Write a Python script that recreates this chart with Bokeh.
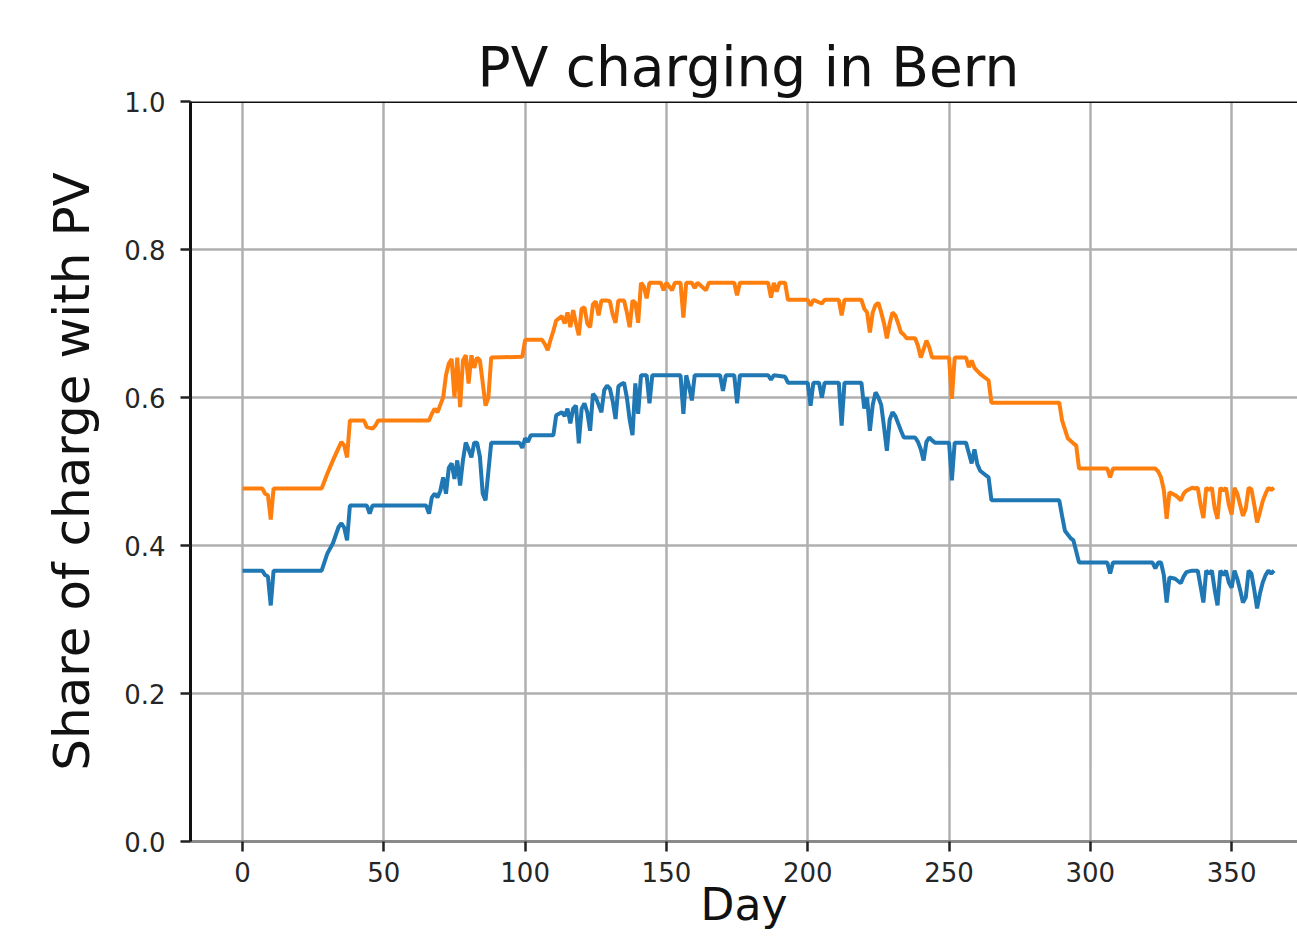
from bokeh.plotting import figure
from bokeh.models import Range1d, Span, FixedTicker
from bokeh.embed import file_html
from bokeh.resources import INLINE

# ---- data ----
days_orange = [0, 7, 8, 9, 10, 11, 28, 30, 32, 34, 35, 36, 37, 38, 43, 44, 46, 47, 48, 66,
               67, 68, 69, 70, 71, 72, 73, 74, 75, 76, 77, 78, 79, 80, 81, 82, 83, 84, 85, 86,
               87, 88, 99, 100, 106, 107, 108, 109, 110, 111, 113, 114, 115, 116, 117, 118, 119, 120, 121, 122,
               123, 124, 125, 126, 127, 129, 130, 131, 132, 133, 135, 136, 137, 138, 139, 140, 141, 142, 143, 144,
               148, 149, 150, 152, 153, 155, 156, 157, 159, 160, 161, 164, 165, 174, 175, 176, 186, 187, 188, 189, 190,
               192, 193, 200, 201, 202, 205, 206, 211, 212, 213, 219, 220, 221, 222, 223, 224, 225, 226, 227, 228,
               229, 230, 231, 232, 233, 234, 235, 238, 239, 240, 241, 242, 243, 244, 250, 251, 252, 256, 257, 258,
               259, 261, 263, 264, 265, 289, 290, 292, 294, 295, 296, 306, 307, 308, 323, 324, 325, 326, 327, 328,
               329, 330, 331, 332, 333, 334, 335, 336, 337, 338, 339, 340, 341, 342, 343, 344, 345, 346, 347, 348,
               349, 350, 351, 352, 353, 354, 355, 356, 357, 358, 359, 360, 361, 362, 363, 364, 365]
share_orange = [0.477, 0.477, 0.470, 0.468, 0.435, 0.477, 0.477, 0.497, 0.515, 0.532, 0.540, 0.535, 0.519, 0.569, 0.569, 0.560, 0.558, 0.562, 0.569, 0.569,
                0.578, 0.585, 0.580, 0.590, 0.600, 0.630, 0.646, 0.652, 0.600, 0.654, 0.587, 0.650, 0.657, 0.619, 0.657, 0.640, 0.654, 0.650, 0.620, 0.589,
                0.600, 0.654, 0.655, 0.678, 0.678, 0.672, 0.664, 0.678, 0.690, 0.704, 0.710, 0.700, 0.715, 0.695, 0.718, 0.700, 0.684, 0.720, 0.722, 0.700,
                0.695, 0.726, 0.730, 0.711, 0.731, 0.731, 0.730, 0.712, 0.701, 0.731, 0.731, 0.715, 0.695, 0.731, 0.728, 0.701, 0.755, 0.750, 0.734, 0.755,
                0.755, 0.745, 0.755, 0.745, 0.755, 0.755, 0.708, 0.755, 0.755, 0.748, 0.755, 0.745, 0.755, 0.755, 0.738, 0.755, 0.755, 0.735, 0.755, 0.743, 0.755,
                0.755, 0.732, 0.732, 0.724, 0.732, 0.727, 0.732, 0.732, 0.711, 0.732, 0.732, 0.720, 0.715, 0.688, 0.715, 0.725, 0.728, 0.715, 0.700, 0.680,
                0.700, 0.715, 0.711, 0.700, 0.688, 0.685, 0.680, 0.680, 0.670, 0.654, 0.665, 0.677, 0.668, 0.654, 0.654, 0.598, 0.654, 0.654, 0.641, 0.650,
                0.640, 0.632, 0.626, 0.623, 0.593, 0.593, 0.569, 0.545, 0.538, 0.535, 0.504, 0.504, 0.492, 0.504, 0.504, 0.500, 0.492, 0.475, 0.436, 0.472,
                0.470, 0.468, 0.465, 0.461, 0.470, 0.474, 0.476, 0.478, 0.477, 0.478, 0.455, 0.437, 0.478, 0.475, 0.478, 0.450, 0.436, 0.478, 0.474, 0.478,
                0.455, 0.442, 0.478, 0.470, 0.455, 0.440, 0.450, 0.478, 0.476, 0.455, 0.431, 0.445, 0.460, 0.470, 0.478, 0.475, 0.478]

days_blue = [0, 7, 8, 9, 10, 11, 28, 30, 32, 34, 35, 36, 37, 38, 44, 45, 46, 65, 66, 67,
             68, 69, 70, 71, 72, 73, 74, 75, 76, 77, 78, 79, 80, 81, 82, 83, 84, 85, 86, 87,
             88, 98, 99, 100, 101, 102, 110, 111, 112, 113, 114, 115, 116, 117, 118, 119, 120, 121, 122, 123,
             124, 125, 126, 127, 128, 129, 130, 131, 132, 133, 134, 135, 136, 137, 138, 139, 140, 141, 143, 144,
             145, 155, 156, 157, 158, 159, 160, 169, 170, 171, 174, 175, 176, 186, 187, 188, 192, 193, 200, 201, 202,
             204, 205, 206, 211, 212, 213, 219, 220, 221, 222, 223, 224, 225, 226, 227, 228, 229, 230, 231, 232,
             233, 234, 238, 239, 240, 241, 242, 243, 244, 245, 250, 251, 252, 256, 257, 258, 259, 260, 261, 263,
             264, 265, 289, 290, 291, 293, 294, 296, 306, 307, 308, 322, 323, 324, 325, 326, 327, 328, 330, 332,
             333, 334, 336, 338, 339, 340, 341, 342, 343, 344, 345, 346, 347, 348, 349, 350, 351, 352, 353, 354,
             355, 356, 357, 358, 359, 360, 361, 362, 363, 364, 365]
share_blue = [0.366, 0.366, 0.360, 0.358, 0.319, 0.366, 0.366, 0.389, 0.403, 0.425, 0.430, 0.424, 0.407, 0.454, 0.454, 0.443, 0.454, 0.454, 0.443, 0.465,
              0.470, 0.465, 0.474, 0.492, 0.470, 0.505, 0.511, 0.490, 0.515, 0.481, 0.515, 0.539, 0.530, 0.519, 0.539, 0.539, 0.520, 0.470, 0.461, 0.500,
              0.539, 0.539, 0.532, 0.545, 0.540, 0.549, 0.549, 0.576, 0.578, 0.580, 0.575, 0.585, 0.565, 0.585, 0.589, 0.538, 0.585, 0.592, 0.580, 0.555,
              0.605, 0.600, 0.590, 0.580, 0.610, 0.616, 0.612, 0.595, 0.571, 0.615, 0.618, 0.620, 0.600, 0.570, 0.549, 0.619, 0.578, 0.630, 0.630, 0.592,
              0.630, 0.630, 0.578, 0.630, 0.615, 0.596, 0.630, 0.630, 0.609, 0.630, 0.630, 0.592, 0.630, 0.630, 0.624, 0.630, 0.628, 0.620, 0.620, 0.589, 0.620,
              0.620, 0.600, 0.620, 0.620, 0.562, 0.620, 0.620, 0.585, 0.600, 0.555, 0.590, 0.607, 0.600, 0.590, 0.560, 0.528, 0.570, 0.580, 0.575, 0.565,
              0.555, 0.546, 0.546, 0.540, 0.530, 0.515, 0.540, 0.546, 0.542, 0.539, 0.539, 0.488, 0.539, 0.539, 0.525, 0.511, 0.530, 0.510, 0.501, 0.495,
              0.492, 0.461, 0.461, 0.440, 0.420, 0.410, 0.407, 0.377, 0.377, 0.362, 0.377, 0.377, 0.369, 0.377, 0.377, 0.360, 0.323, 0.357, 0.355, 0.349,
              0.358, 0.364, 0.366, 0.366, 0.345, 0.323, 0.366, 0.362, 0.366, 0.340, 0.319, 0.366, 0.360, 0.366, 0.350, 0.343, 0.366, 0.355, 0.340, 0.323,
              0.330, 0.366, 0.362, 0.340, 0.315, 0.335, 0.350, 0.360, 0.366, 0.362, 0.366]

x_ticks = [0, 50, 100, 150, 200, 250, 300, 350]
y_ticks = [0.0, 0.2, 0.4, 0.6, 0.8, 1.0]

FONT = "DejaVu Sans"

p = figure(width=1297, height=936,
           x_range=Range1d(-18.4, 373.3), y_range=Range1d(0, 1),
           output_backend="svg", toolbar_location=None,
           min_border_left=190, min_border_top=101, min_border_bottom=95, min_border_right=0,
           title="PV charging in Bern")

p.outline_line_color = None
p.background_fill_color = "white"
p.border_fill_color = "white"

# title
p.title.text_font = FONT
p.title.text_font_size = "55px"
p.title.text_font_style = "normal"
p.title.text_color = "#111111"
p.title.align = "left"
p.title.offset = 287
p.title.standoff = 6

# grid
p.xgrid.grid_line_color = "#b0b0b0"
p.ygrid.grid_line_color = "#b0b0b0"
p.xgrid.grid_line_width = 2.5
p.ygrid.grid_line_width = 2.5

# axes
p.xaxis.ticker = FixedTicker(ticks=x_ticks)
p.yaxis.ticker = FixedTicker(ticks=y_ticks)
p.yaxis.major_label_overrides = {v: f"{v:.1f}" for v in y_ticks}
for ax in (p.xaxis[0], p.yaxis[0]):
    ax.major_label_text_font = FONT
    ax.major_label_text_font_size = "26px"
    ax.major_label_text_color = "#262626"
    ax.major_tick_out = 10
    ax.major_tick_in = 0
    ax.minor_tick_out = 0
    ax.minor_tick_in = 0
    ax.major_tick_line_color = "#222222"
    ax.major_tick_line_width = 2.5
p.yaxis.axis_line_color = "#111111"
p.yaxis.axis_line_width = 3
p.xaxis.axis_line_color = "#8a8a8a"
p.xaxis.axis_line_width = 3
p.yaxis.major_label_standoff = 15
p.xaxis.major_label_standoff = 10

p.yaxis.axis_label = "Share of charge with PV"
p.yaxis.axis_label_text_font = FONT
p.yaxis.axis_label_text_font_size = "50px"
p.yaxis.axis_label_text_font_style = "normal"
p.yaxis.axis_label_text_color = "#111111"
p.yaxis.axis_label_standoff = 20

p.xaxis.axis_label = "Day"
p.xaxis.axis_label_text_font = FONT
p.xaxis.axis_label_text_font_size = "44px"
p.xaxis.axis_label_text_font_style = "normal"
p.xaxis.axis_label_text_color = "#111111"
p.xaxis.axis_label_standoff = -6

# top spine
p.add_layout(Span(location=1.0, dimension="width", line_color="#111111", line_width=3))

# series
p.line(days_orange, share_orange, line_color="#ff7f0e", line_width=4)
p.line(days_blue, share_blue, line_color="#1f77b4", line_width=4)

open("out.html", "w").write(file_html(p, INLINE))
